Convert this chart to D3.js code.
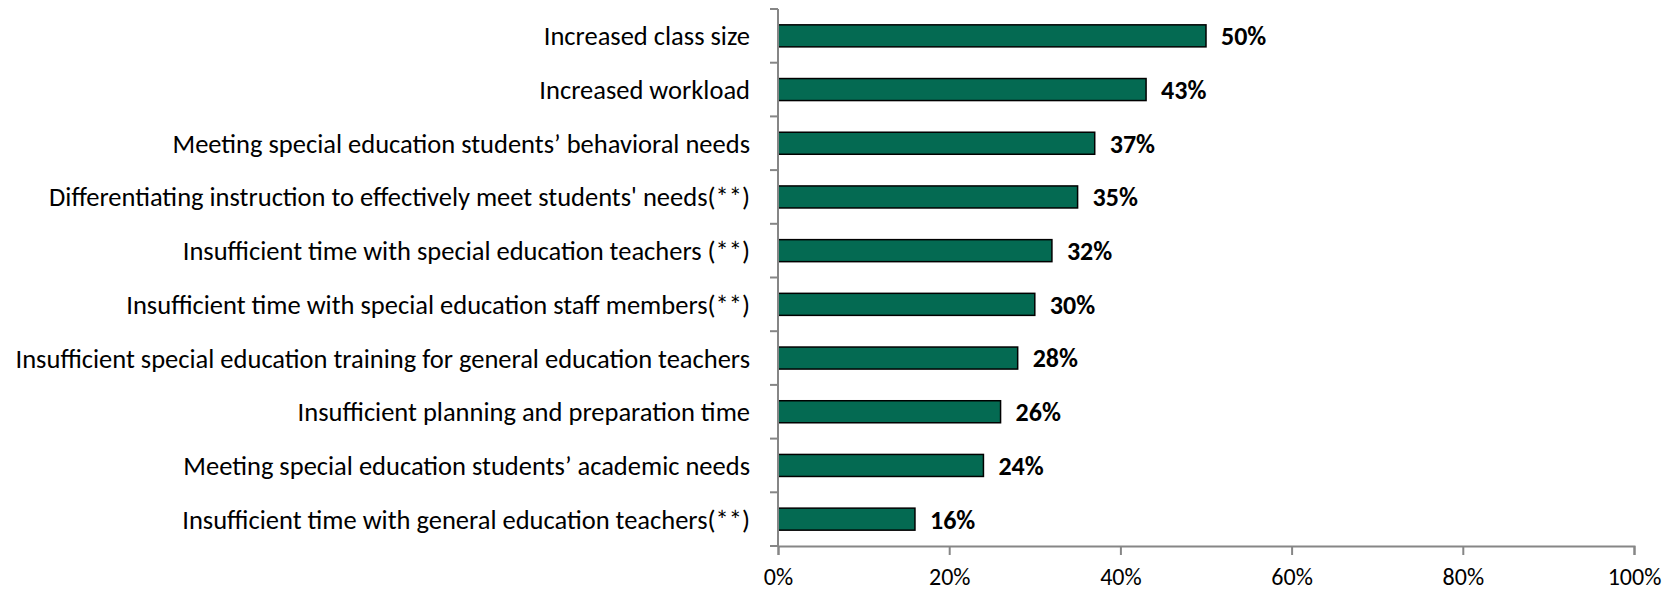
<!DOCTYPE html>
<html>
<head>
<meta charset="utf-8">
<script src="https://cdn.jsdelivr.net/npm/d3@7"></script>
<style>
  html, body { margin: 0; padding: 0; background: #fff; }
  svg { display: block; }
  text { font-family: Carlito, Calibri, Lato, "Liberation Sans", sans-serif; fill: #000; }
</style>
</head>
<body>
<svg id="chart" width="1673" height="593"></svg>
<script>
// Challenges reported, share of respondents (%)
const categories = [
  "Increased class size",
  "Increased workload ",
  "Meeting special education students\u2019 behavioral needs",
  "Differentiating instruction to effectively meet students' needs(**)",
  "Insufficient time with special education teachers (**)",
  "Insufficient time with special education staff members(**)",
  "Insufficient special education training for general education teachers",
  "Insufficient planning and preparation time",
  "Meeting special education students\u2019 academic needs",
  "Insufficient time with general education teachers(**)"
];
const values = [50, 43, 37, 35, 32, 30, 28, 26, 24, 16];
const xTicks = [0, 20, 40, 60, 80, 100];

const svg = d3.select("#chart");
const plot = { left: 778, right: 1634, top: 9, bottom: 546 };

const x = d3.scaleLinear().domain([0, 100]).range([plot.left, plot.right]);
const y = d3.scaleBand()
  .domain(categories)
  .range([plot.top, plot.bottom])
  .paddingInner(0.59)
  .paddingOuter(0.295);

const axisColor = "#868686";

// bars
svg.append("g").selectAll("rect")
  .data(values)
  .join("rect")
  .attr("x", x(0))
  .attr("y", (d, i) => y(categories[i]))
  .attr("width", d => x(d) - x(0))
  .attr("height", y.bandwidth())
  .attr("fill", "#046A52")
  .attr("stroke", "#000")
  .attr("stroke-width", 1.5);

// value labels
svg.append("g").selectAll("text")
  .data(values)
  .join("text")
  .attr("x", d => x(d) + 15)
  .attr("y", (d, i) => y(categories[i]) + y.bandwidth() / 2)
  .attr("dy", "0.36em")
  .attr("font-size", 26)
  .attr("font-weight", "bold")
  .text(d => d + "%");

// vertical axis with ticks at category boundaries
const yAxis = svg.append("g");
yAxis.append("line")
  .attr("x1", plot.left).attr("x2", plot.left)
  .attr("y1", plot.top).attr("y2", plot.bottom)
  .attr("stroke", axisColor).attr("stroke-width", 2);
const step = y.step();
yAxis.selectAll("line.tick")
  .data(d3.range(categories.length + 1))
  .join("line")
  .attr("class", "tick")
  .attr("x1", plot.left - 8).attr("x2", plot.left)
  .attr("y1", i => plot.top + i * step)
  .attr("y2", i => plot.top + i * step)
  .attr("stroke", axisColor).attr("stroke-width", 2);

// category labels
svg.append("g").selectAll("text")
  .data(categories)
  .join("text")
  .attr("x", plot.left - 28)
  .attr("y", d => y(d) + y.bandwidth() / 2)
  .attr("dy", "0.36em")
  .attr("text-anchor", "end")
  .attr("font-size", 26.5)
  .text(d => d);

// horizontal axis
const xAxis = d3.axisBottom(x)
  .tickValues(xTicks)
  .tickSize(9)
  .tickPadding(13)
  .tickFormat(d => d + "%");
const gx = svg.append("g")
  .attr("transform", `translate(0,${plot.bottom})`)
  .call(xAxis);
gx.select(".domain").attr("stroke", axisColor).attr("stroke-width", 2);
gx.selectAll(".tick line").attr("stroke", axisColor).attr("stroke-width", 2);
gx.selectAll(".tick text")
  .attr("font-size", 24)
  .attr("font-family", "Carlito, Calibri, Lato, 'Liberation Sans', sans-serif")
  .attr("fill", "#000");
</script>
</body>
</html>
